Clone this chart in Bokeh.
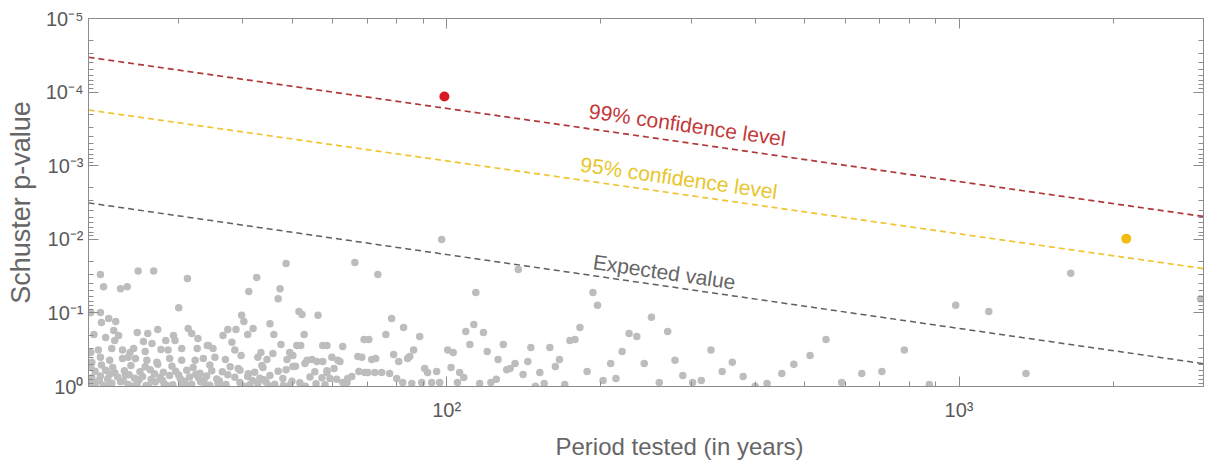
import math
from bokeh.plotting import figure
from bokeh.models import Range1d, FixedTicker, LogAxis, Label, CustomJSTickFormatter, Title
from bokeh.embed import file_html
from bokeh.resources import INLINE

# ---------------- data ----------------
# tested periods (years) and Schuster p-values of the non-significant periods
gray_period = [
    21.1, 21.4, 25.0, 26.8, 23.1, 23.8, 31.2, 30.0, 21.1, 20.2, 21.2, 21.9, 22.6, 20.5, 21.6, 22.4,
    22.9, 24.9, 26.1, 27.3, 29.3, 31.3, 31.8, 32.7, 34.1, 22.5, 25.6, 26.6, 28.3, 29.5, 22.2, 20.9,
    20.2, 23.3, 24.1, 24.5, 25.8, 27.7, 28.6, 30.4, 32.6, 20.3, 21.1, 22.0, 23.3, 23.9, 24.7, 26.0,
    27.2, 28.8, 30.4, 32.3, 33.5, 48.6, 42.6, 41.1, 47.3, 46.9, 39.8, 40.2, 45.2, 51.5, 52.2, 56.1,
    37.4, 38.8, 36.6, 41.9, 40.9, 46.0, 52.7, 38.1, 47.5, 51.0, 51.9, 57.3, 34.3, 35.0, 38.6, 39.7,
    43.4, 45.8, 49.4, 50.1, 35.3, 37.0, 42.8, 44.6, 48.8, 53.4, 54.6, 55.8, 57.3, 39.2, 43.8, 50.1,
    52.9, 97.8, 66.2, 73.4, 78.1, 82.4, 76.1, 69.0, 70.5, 88.6, 62.7, 58.4, 59.7, 61.3, 61.9, 67.1,
    68.3, 71.4, 72.7, 78.8, 80.6, 83.9, 84.7, 86.2, 100.5, 60.3, 67.4, 69.2, 70.2, 72.4, 74.7, 77.4,
    90.6, 91.8, 95.6, 58.4, 59.2, 61.0, 62.7, 64.1, 65.3, 79.9, 82.1, 85.5, 89.4, 93.5, 96.9, 63.9,
    138, 114, 193, 197, 113, 109, 118, 182, 111, 129, 120, 146, 159, 174, 178, 227,
    235, 103, 126, 136, 144, 166, 163, 220, 209, 102, 106, 108, 131, 133, 141, 152,
    188, 214, 105, 116, 122, 125, 149, 155, 170, 202, 251, 270, 550, 328, 243, 279,
    512, 361, 476, 345, 451, 289, 379, 646, 707, 782, 260, 314, 302, 422, 400, 590,
    875, 1652, 985, 1143, 1351, 2960,
    20.2, 20.7, 21.4, 22.2, 23.1, 23.9, 24.9, 25.9, 27.0, 28.1, 29.2, 30.4, 31.8, 33.1, 34.5, 35.8,
    37.1, 39.5, 41.3, 42.8, 44.4, 46.2, 49.4, 51.7, 55.6, 57.9,
    20.3, 21.1, 21.8, 22.8, 23.6, 24.6, 25.5, 26.5, 27.6, 28.8, 30.2, 31.5, 32.8, 34.0, 35.6, 38.6,
    40.9, 43.2, 45.2, 47.9, 54.1, 57.1,
    20.6, 21.6, 22.5, 23.5, 25.2, 26.4, 28.0, 29.6, 31.1, 33.0, 34.8, 36.5, 39.5, 42.2, 46.9, 48.6,
    55.3, 58.4,
    20.2, 21.2, 22.3, 24.2, 25.8, 27.3, 29.1, 32.0, 34.5, 37.8, 43.6, 50.7,
    20.5, 22.0, 24.3, 26.2, 28.4, 31.0, 33.8, 36.3, 40.2, 45.0, 48.0, 53.0,
    21.0, 23.4, 25.1, 27.9, 30.8, 33.6, 36.0, 41.8, 44.0, 49.9,
    22.0, 24.0, 26.9, 30.0, 32.4, 37.4, 41.0,
]
gray_pvalue = [
    0.030, 0.044, 0.027, 0.027, 0.047, 0.044, 0.034, 0.085, 0.099, 0.099, 0.135, 0.119, 0.131, 0.196, 0.216, 0.173,
    0.203, 0.185, 0.19, 0.168, 0.203, 0.163, 0.19, 0.223, 0.277, 0.237, 0.245, 0.26, 0.237, 0.237, 0.305, 0.32,
    0.345, 0.32, 0.345, 0.305, 0.334, 0.314, 0.32, 0.305, 0.305, 0.47, 0.40, 0.44, 0.417, 0.40, 0.417, 0.44,
    0.47, 0.417, 0.44, 0.44, 0.417, 0.0213, 0.033, 0.051, 0.047, 0.064, 0.108, 0.131, 0.14, 0.096, 0.105, 0.108,
    0.168, 0.168, 0.203, 0.163, 0.196, 0.196, 0.196, 0.25, 0.269, 0.277, 0.277, 0.277, 0.277, 0.305, 0.32, 0.38,
    0.345, 0.356, 0.345, 0.38, 0.40, 0.43, 0.40, 0.43, 0.43, 0.44, 0.43, 0.457, 0.457, 0.57, 0.55, 0.535,
    0.487, 0.0101, 0.0207, 0.030, 0.119, 0.158, 0.196, 0.23, 0.23, 0.209, 0.286, 0.277, 0.40, 0.44, 0.457, 0.39,
    0.40, 0.43, 0.417, 0.367, 0.457, 0.417, 0.39, 0.32, 0.32, 0.57, 0.625, 0.645, 0.645, 0.645, 0.645, 0.666,
    0.57, 0.645, 0.625, 0.645, 0.778, 0.80, 0.88, 0.778, 0.73, 0.778, 0.88, 0.91, 0.88, 0.88, 0.88, 0.88,
    0.0257, 0.053, 0.053, 0.079, 0.144, 0.179, 0.185, 0.158, 0.269, 0.269, 0.334, 0.295, 0.295, 0.237, 0.23, 0.19,
    0.209, 0.345, 0.43, 0.487, 0.457, 0.43, 0.535, 0.334, 0.487, 0.55, 0.645, 0.755, 0.59, 0.57, 0.687, 0.645,
    0.625, 0.778, 0.88, 0.91, 0.88, 0.80, 0.99, 0.91, 0.94, 0.83, 0.115, 0.179, 0.23, 0.32, 0.487, 0.44,
    0.38, 0.47, 0.50, 0.625, 0.666, 0.71, 0.73, 0.666, 0.625, 0.32, 0.88, 0.83, 0.88, 0.91, 0.99, 0.88,
    0.94, 0.029, 0.079, 0.096, 0.666, 0.064,
    0.93, 0.88, 0.96, 0.90, 0.86, 0.94, 0.91, 0.97, 0.87, 0.92, 0.95, 0.89, 0.93, 0.86, 0.96, 0.90,
    0.94, 0.88, 0.95, 0.91, 0.87, 0.93, 0.96, 0.89, 0.92, 0.95,
    0.76, 0.72, 0.79, 0.74, 0.70, 0.77, 0.73, 0.80, 0.75, 0.71, 0.78, 0.74, 0.76, 0.72, 0.79, 0.75,
    0.73, 0.77, 0.71, 0.78, 0.74, 0.76,
    0.62, 0.60, 0.65, 0.61, 0.63, 0.59, 0.64, 0.62, 0.60, 0.66, 0.61, 0.63, 0.60, 0.64, 0.62, 0.59,
    0.63, 0.61,
    0.53, 0.51, 0.55, 0.52, 0.54, 0.50, 0.53, 0.55, 0.51, 0.54, 0.52, 0.53,
    0.98, 0.97, 0.99, 0.98, 0.97, 0.99, 0.98, 0.97, 0.99, 0.98, 0.97, 0.99,
    0.82, 0.84, 0.81, 0.83, 0.85, 0.82, 0.84, 0.83, 0.81, 0.85,
    0.68, 0.69, 0.67, 0.70, 0.68, 0.69, 0.67,
]

# significant periods
sig99_period = [99]
sig99_pvalue = [1.15e-4]
sig95_period = [2120]
sig95_pvalue = [9.8e-3]

# threshold lines (end points at the axis limits)
line_period = [20, 3000]
conf99_pvalue = [3.36e-5, 4.9e-3]
conf95_pvalue = [1.75e-4, 2.5e-2]
expected_pvalue = [3.2e-3, 0.49]

labels_text = ["99% confidence level", "95% confidence level", "Expected value"]
x_title = "Period tested (in years)"
y_title = "Schuster p-value"

x_major = [100, 1000]
x_minor = [30, 40, 50, 60, 70, 80, 90, 200, 300, 400, 500, 600, 700, 800, 900, 2000, 3000]
y_major = [1e-5, 1e-4, 1e-3, 1e-2, 1e-1, 1]
y_minor = [k * 10.0 ** e for e in range(-5, 0) for k in range(2, 10)]

# ---------------- styling ----------------
FONT = "Liberation Sans"
AXIS_COL = "#8c8c8c"
TICK_TXT = "#5a5a5a"
LABEL_TXT = "#666666"
FRAME_W, FRAME_H = 1115, 368
X0, X1 = 20, 3000
Y0, Y1 = 1, 1e-5

p = figure(
    x_axis_type="log", y_axis_type="log",
    x_range=Range1d(X0, X1), y_range=Range1d(Y0, Y1),
    frame_width=FRAME_W, frame_height=FRAME_H,
    min_border_left=88, min_border_top=18, min_border_right=5, min_border_bottom=77,
    output_backend="svg", toolbar_location=None,
    background_fill_color="white", border_fill_color="white",
)
p.xgrid.visible = False
p.ygrid.visible = False
p.outline_line_color = AXIS_COL

sup_code = """
const e = Math.round(Math.log10(tick));
const m = {"-":"\\u207B","0":"\\u2070","1":"\\u00B9","2":"\\u00B2","3":"\\u00B3","4":"\\u2074",
           "5":"\\u2075","6":"\\u2076","7":"\\u2077","8":"\\u2078","9":"\\u2079"};
return "10" + String(e).split("").map(c => m[c]).join("");
"""


def style_axis(ax, ticker, show_labels):
    ax.ticker = ticker
    ax.axis_line_color = AXIS_COL
    ax.major_tick_line_color = AXIS_COL
    ax.minor_tick_line_color = AXIS_COL
    ax.major_tick_in = 10
    ax.major_tick_out = 0
    ax.minor_tick_in = 5
    ax.minor_tick_out = 0
    if show_labels:
        ax.formatter = CustomJSTickFormatter(code=sup_code)
        ax.major_label_text_font = FONT
        ax.major_label_text_font_size = "20px"
        ax.major_label_text_color = TICK_TXT
    else:
        ax.formatter = CustomJSTickFormatter(code="return ''")
        ax.major_label_text_font_size = "1px"
        ax.major_label_standoff = 0


xt = FixedTicker(ticks=x_major, minor_ticks=x_minor)
yt = FixedTicker(ticks=y_major, minor_ticks=y_minor)

style_axis(p.xaxis[0], xt, True)
style_axis(p.yaxis[0], yt, True)
p.xaxis[0].major_label_standoff = 12
p.yaxis[0].major_label_standoff = 5

ya = p.yaxis[0]
ya.axis_label = y_title
ya.axis_label_text_font = FONT
ya.axis_label_text_font_size = "27px"
ya.axis_label_text_font_style = "normal"
ya.axis_label_text_color = LABEL_TXT
ya.axis_label_standoff = 7

top_ax = LogAxis()
style_axis(top_ax, FixedTicker(ticks=x_major, minor_ticks=x_minor), False)
p.add_layout(top_ax, "above")
right_ax = LogAxis()
style_axis(right_ax, FixedTicker(ticks=y_major, minor_ticks=y_minor), False)
p.add_layout(right_ax, "right")

# x-axis title (slightly right of the frame centre, as in the original)
p.add_layout(Title(
    text=x_title, align="left", offset=467, standoff=14,
    text_font=FONT, text_font_size="24px", text_font_style="normal",
    text_color=LABEL_TXT,
), "below")

# threshold lines
p.line(line_period, conf99_pvalue, line_color="#b03838", line_width=1.7, line_dash="6 4")
p.line(line_period, conf95_pvalue, line_color="#f0c531", line_width=1.7, line_dash="6 4")
p.line(line_period, expected_pvalue, line_color="#5f5f5f", line_width=1.5, line_dash="6 4")

# points
p.scatter(gray_period, gray_pvalue, size=7.5, fill_color="#bdbdbd", line_color=None)
p.scatter(sig99_period, sig99_pvalue, size=10, fill_color="#d71a1f", line_color=None)
p.scatter(sig95_period, sig95_pvalue, size=10, fill_color="#f2bd13", line_color=None)


# labels along the lines
def on_line(xs, ys, x):
    lx0, lx1 = math.log10(xs[0]), math.log10(xs[1])
    ly0, ly1 = math.log10(ys[0]), math.log10(ys[1])
    t = (math.log10(x) - lx0) / (lx1 - lx0)
    return 10 ** (ly0 + t * (ly1 - ly0))


def line_angle(xs, ys):
    px_per_dec_x = FRAME_W / math.log10(X1 / X0)
    px_per_dec_y = FRAME_H / math.log10(Y0 / Y1)
    dx = (math.log10(xs[1]) - math.log10(xs[0])) * px_per_dec_x
    dy = (math.log10(ys[1]) - math.log10(ys[0])) * px_per_dec_y
    return -math.atan2(dy, dx)


for txt, ys, xpos, off, col in [
    (labels_text[0], conf99_pvalue, 295, 18, "#c23a3a"),
    (labels_text[1], conf95_pvalue, 284, 16, "#e8c62c"),
    (labels_text[2], expected_pvalue, 266, 14, "#666666"),
]:
    p.add_layout(Label(
        x=xpos, y=on_line(line_period, ys, xpos), y_offset=off,
        text=txt, angle=line_angle(line_period, ys),
        text_align="center", text_baseline="middle",
        text_font=FONT, text_font_size="21px", text_color=col,
    ))

open("out.html", "w").write(file_html(p, INLINE))
